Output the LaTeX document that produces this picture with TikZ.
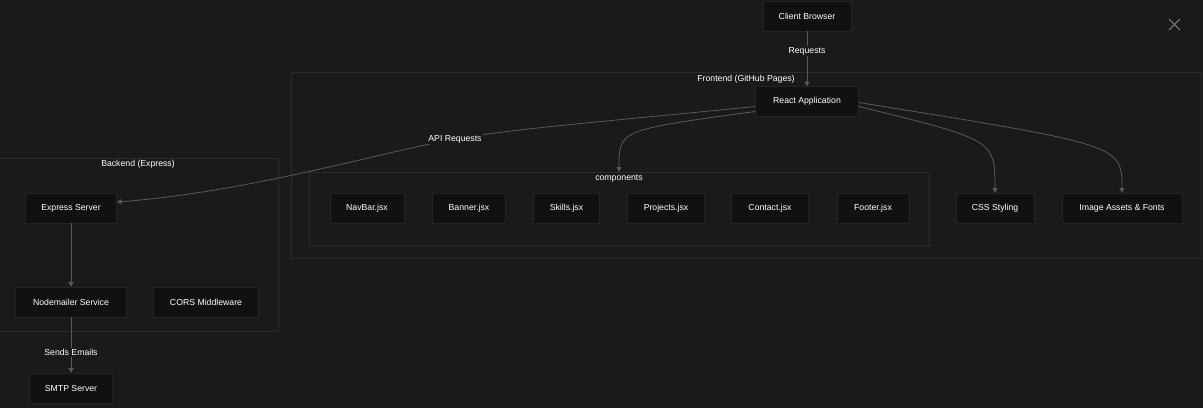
\documentclass[tikz,border=0pt]{standalone}
\usepackage{fontspec}
\setmainfont{Liberation Sans}
\usetikzlibrary{positioning,arrows.meta}
\definecolor{bgcol}{HTML}{1A1A1A}
\definecolor{nodefill}{HTML}{111111}
\definecolor{nodeline}{HTML}{242424}
\definecolor{clusterline}{HTML}{2B2B2B}
\definecolor{edgecol}{HTML}{5A5A5A}
\definecolor{closecol}{HTML}{8A8A8A}
\tikzset{
	txt/.style={text=white, font=\fontsize{8.7}{10}\selectfont},
	box/.style={txt, draw=nodeline, fill=nodefill, line width=0.7pt, minimum height=30pt, inner sep=0pt},
	cluster/.style={draw=clusterline, line width=0.7pt, inner sep=0pt},
	clabel/.style={txt, inner sep=0pt},
	edge/.style={draw=edgecol, line width=0.8pt, -{Triangle[length=4.5pt,width=5pt]}},
	elabel/.style={txt, fill=bgcol, inner sep=1.5pt},
}
\begin{document}
\begin{tikzpicture}[x=1pt, y=-1pt]
			\useasboundingbox[fill=bgcol] (0,0) rectangle (1203,408);
			% groups
			\node[cluster, minimum width=910pt, minimum height=186pt] (frontend) at (746,165) {};
			\node[cluster, minimum width=280pt, minimum height=173pt] (backend) at (138,244.5) {};
			\node[cluster, minimum width=620pt, minimum height=73pt] (comps) at (619,208.5) {};
			\node[clabel, below=3pt of frontend.north] (frontendlbl) {Frontend (GitHub Pages)};
			\node[clabel, below=2.5pt of backend.north] (backendlbl) {Backend (Express)};
			\node[clabel, below=3pt of comps.north] (compslbl) {components};
			% nodes
			\node[box, minimum width=88pt] (client) at (807,16) {Client Browser};
			\node[box, minimum width=103pt] (react) at (807,101.5) {React Application};
			\node[box, minimum width=91pt] (express) at (71,208) {Express Server};
			\node[box, minimum width=111pt] (mailer) at (71,302) {Nodemailer Service};
			\node[box, minimum width=105pt] (cors) at (206,302) {CORS Middleware};
			\node[box, minimum width=83pt] (smtp) at (71,388) {SMTP Server};
			\node[box, minimum width=74pt] (navbar) at (367,208) {NavBar.jsx};
			\node[box, minimum width=73pt] (banner) at (469,208) {Banner.jsx};
			\node[box, minimum width=66pt] (skills) at (566.5,208) {Skills.jsx};
			\node[box, minimum width=77pt] (projects) at (666,208) {Projects.jsx};
			\node[box, minimum width=77pt] (contact) at (770,208) {Contact.jsx};
			\node[box, minimum width=72pt] (footer) at (873,208) {Footer.jsx};
			\node[box, minimum width=78pt] (css) at (995,208) {CSS Styling};
			\node[box, minimum width=120pt] (assets) at (1122,208) {Image Assets \& Fonts};
			% links
			\coordinate (apimid) at (455,139);
			\draw[edge] (client) -- node[elabel, pos=0.36] {Requests} (react);
			\draw[edge] ([yshift=-5pt]react.east) .. controls (995,140) .. (css.north);
			\draw[edge] ([yshift=-1pt]react.east) .. controls (1122,145) .. (assets.north);
			\draw[edge] ([yshift=-10pt]react.west) .. controls (619,130) .. (comps.north);
			\draw[edge] ([yshift=-5pt]react.west) .. controls (600,122) and (520,128) .. (apimid) node[elabel] {API Requests}
				.. controls (390,150) and (250,192) .. ([yshift=6pt]express.east);
			\draw[edge] (express) -- (mailer);
			\draw[edge] (mailer) -- node[elabel, pos=0.64] {Sends Emails} (smtp);
			% close button
			\coordinate (closebtn) at (1174.5,24.5);
			\draw[closecol, line width=0.9pt] ([shift={(-5.5,-5.5)}]closebtn) -- ([shift={(5.5,5.5)}]closebtn);
			\draw[closecol, line width=0.9pt] ([shift={(-5.5,5.5)}]closebtn) -- ([shift={(5.5,-5.5)}]closebtn);
		\end{tikzpicture}
\end{document}
